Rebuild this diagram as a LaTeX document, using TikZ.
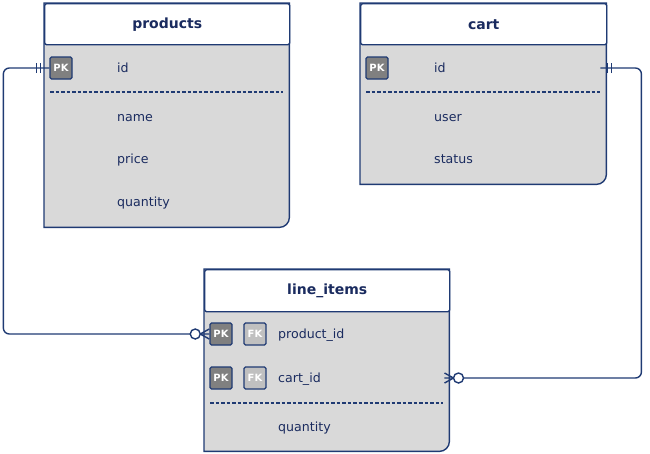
\documentclass[tikz,border=0pt]{standalone}
\usepackage{fontspec}
\setmainfont{DejaVu Sans}
\usepackage{xcolor}
\definecolor{er_navy}{HTML}{1F3A73}
\definecolor{er_text}{HTML}{1A2B5F}
\definecolor{er_body}{HTML}{D9D9D9}
\definecolor{er_pk}{HTML}{808080}
\definecolor{er_fk}{HTML}{C0C0C0}
\usetikzlibrary{positioning,calc,decorations.markings}
\tikzset{TABLE/.style={rectangle,inner sep=0pt,anchor=north west}}
\tikzset{HEADER/.style={rectangle,draw=er_navy,fill=white,line width=1.4pt,rounded corners=2pt,minimum width=245pt,minimum height=41pt,inner sep=0pt,anchor=north west,text=er_text,font=\fontsize{14}{16}\selectfont\bfseries}}
\tikzset{BODY/.style={draw=er_navy,fill=er_body,line width=1.4pt}}
\tikzset{FIELD/.style={anchor=west,inner sep=0pt,text height=0.75em,text depth=0em,text=er_text,font=\fontsize{12.6}{14}\selectfont}}
\tikzset{KEY/.style={rectangle,draw=er_navy,line width=1.3pt,rounded corners=1.5pt,minimum width=22pt,minimum height=22pt,inner sep=0pt,text=white,font=\fontsize{10}{11}\selectfont\bfseries}}
\tikzset{PKEY/.style={KEY,fill=er_pk}}
\tikzset{FKEY/.style={KEY,fill=er_fk}}
\tikzset{SEPARATOR/.style={draw=er_navy,line width=1.3pt,dash pattern=on 3.5pt off 2pt}}
\tikzset{ARROW/.style={draw=er_navy,line width=1.4pt,rounded corners=6pt}}
\tikzset{ONE/.style={postaction={decorate,decoration={markings,mark=at position #1 with {\draw[er_navy,line width=1.4pt,sharp corners] (-2pt,-5pt) -- (-2pt,5pt) (2pt,-5pt) -- (2pt,5pt);}}}}}
\tikzset{MANY/.style={postaction={decorate,decoration={markings,mark=at position -0.1pt with {\draw[er_navy,line width=1.4pt,sharp corners] (0pt,5pt) -- (-9pt,0pt) -- (0pt,-5pt); \draw[er_navy,line width=1.4pt,fill=white] (-14pt,0pt) circle[radius=5pt];}}}}}

\begin{document}
\begin{tikzpicture}[x=1pt,y=-1pt]

\useasboundingbox (0,0) rectangle (650,453);

% products
\node[TABLE, minimum width=245pt, minimum height=224pt] (n_products) at (44,3) {};
\draw[BODY] (n_products.north west) -- (n_products.north east) -- ([yshift=10pt]n_products.south east) arc[start angle=0,end angle=-90,radius=10pt] -- (n_products.south west) -- cycle;
\node[HEADER] (n_products_head) at (n_products.north west) {products};

\node[PKEY] (n_products_pk) at ($(n_products.north west)+(17,65)$) {PK};
\node[FIELD] (n_products_id) at ($(n_products.north west)+(73,66)$) {id};
\draw[SEPARATOR] ($(n_products.north west)+(6,89)$) -- ($(n_products.north east)+(-6,89)$);
\node[FIELD] (n_products_name) at ($(n_products.north west)+(73,115)$) {name};
\node[FIELD] (n_products_price) at ($(n_products.north west)+(73,157)$) {price};
\node[FIELD] (n_products_quantity) at ($(n_products.north west)+(73,200)$) {quantity};

% cart
\node[TABLE, minimum width=246pt, minimum height=181pt] (n_cart) at (360,3) {};
\draw[BODY] (n_cart.north west) -- (n_cart.north east) -- ([yshift=10pt]n_cart.south east) arc[start angle=0,end angle=-90,radius=10pt] -- (n_cart.south west) -- cycle;
\node[HEADER, minimum width=246pt] (n_cart_head) at (n_cart.north west) {cart};

\node[PKEY] (n_cart_pk) at ($(n_cart.north west)+(17,65)$) {PK};
\node[FIELD] (n_cart_id) at ($(n_cart.north west)+(74,66)$) {id};
\draw[SEPARATOR] ($(n_cart.north west)+(6,89)$) -- ($(n_cart.north east)+(-6,89)$);
\node[FIELD] (n_cart_user) at ($(n_cart.north west)+(74,115)$) {user};
\node[FIELD] (n_cart_status) at ($(n_cart.north west)+(74,157)$) {status};

% line_items
\node[TABLE, minimum width=245pt, minimum height=182pt] (n_line_items) at (204,269) {};
\draw[BODY] (n_line_items.north west) -- (n_line_items.north east) -- ([yshift=10pt]n_line_items.south east) arc[start angle=0,end angle=-90,radius=10pt] -- (n_line_items.south west) -- cycle;
\node[HEADER, minimum height=42pt] (n_line_items_head) at (n_line_items.north west) {line\_items};

\node[PKEY] (n_line_items_pk1) at ($(n_line_items.north west)+(17,65)$) {PK};
\node[FKEY] (n_line_items_fk1) at ($(n_line_items.north west)+(51,65)$) {FK};
\node[FIELD] (n_line_items_product_id) at ($(n_line_items.north west)+(74,66)$) {product\_id};
\node[PKEY] (n_line_items_pk2) at ($(n_line_items.north west)+(17,109)$) {PK};
\node[FKEY] (n_line_items_fk2) at ($(n_line_items.north west)+(51,109)$) {FK};
\node[FIELD] (n_line_items_cart_id) at ($(n_line_items.north west)+(74,110)$) {cart\_id};
\draw[SEPARATOR] ($(n_line_items.north west)+(6,134)$) -- ($(n_line_items.north east)+(-6,134)$);
\node[FIELD] (n_line_items_quantity) at ($(n_line_items.north west)+(74,159)$) {quantity};

% relations
\draw[ARROW, ONE=11pt, MANY] (n_products_pk.west) -- ++(-46,0) |- (n_line_items_pk1.west);
\draw[ARROW, ONE=9pt, MANY] ($(n_cart_pk -| n_cart.east)+(-6,0)$) -- ++(41,0) |- ($(n_line_items.east |- n_line_items_pk2)+(-5,0)$);

\end{tikzpicture}
\end{document}
